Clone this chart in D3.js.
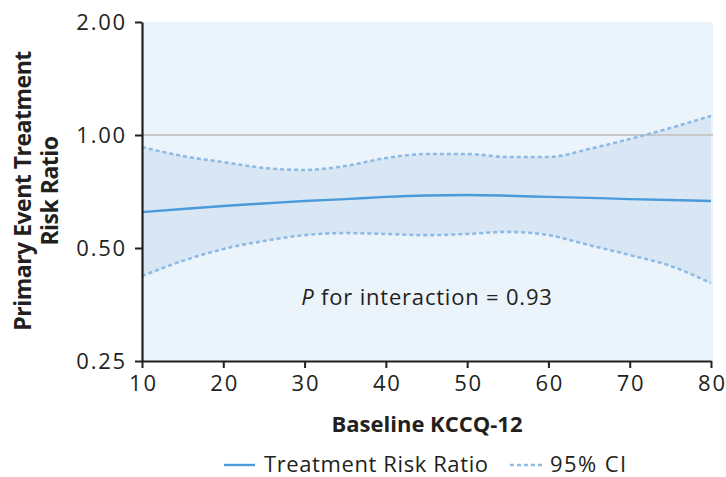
<!DOCTYPE html>
<html>
<head>
<meta charset="utf-8">
<script src="https://cdn.jsdelivr.net/npm/d3@7"></script>
<style>
body { margin: 0; background: #fff; }
text { font-family: "Open Sans", "Noto Sans", sans-serif; fill: #231f20; }
</style>
</head>
<body>
<svg id="chart" width="726" height="477"></svg>
<script>
// KCCQ-12 values along x
var kccq = [10, 15, 20, 25, 30, 35, 40, 45, 50, 55, 60, 65, 70, 75, 80];
var riskRatio = [0.623, 0.635, 0.647, 0.657, 0.667, 0.675, 0.684, 0.690, 0.692, 0.689, 0.684, 0.680, 0.675, 0.671, 0.667];
var ciUpper = [0.929, 0.879, 0.847, 0.817, 0.807, 0.827, 0.868, 0.890, 0.890, 0.874, 0.874, 0.918, 0.976, 1.044, 1.124];
var ciLower = [0.421, 0.462, 0.497, 0.522, 0.541, 0.548, 0.545, 0.541, 0.545, 0.552, 0.541, 0.509, 0.479, 0.448, 0.403];

var xTicks = [10, 20, 30, 40, 50, 60, 70, 80];
var yTicks = [0.25, 0.5, 1, 2];
var yTickLabels = ["0.25", "0.50", "1.00", "2.00"];

var svg = d3.select("#chart");

var x = d3.scaleLinear().domain([10, 80]).range([142, 711]);
var y = d3.scaleLog().base(2).domain([0.25, 2]).range([361, 22]);

var rows = kccq.map(function(k, i) {
	return { k: k, rr: riskRatio[i], hi: ciUpper[i], lo: ciLower[i] };
});

// plot background
svg.append("rect")
	.attr("x", x(10))
	.attr("y", y(2))
	.attr("width", x(80) - x(10) + 2)
	.attr("height", y(0.25) - y(2))
	.attr("fill", "#ebf3fb");

var curve = d3.curveMonotoneX;

// confidence band
svg.append("path")
	.datum(rows)
	.attr("d", d3.area()
		.x(function(d) { return x(d.k); })
		.y0(function(d) { return y(d.lo); })
		.y1(function(d) { return y(d.hi); })
		.curve(curve))
	.attr("fill", "#d9e7f5");

// reference line at 1
svg.append("line")
	.attr("x1", x(10))
	.attr("x2", x(80) + 2)
	.attr("y1", y(1))
	.attr("y2", y(1))
	.attr("stroke", "#c8c8c8")
	.attr("stroke-width", 2);

var lineOf = function(key) {
	return d3.line()
		.x(function(d) { return x(d.k); })
		.y(function(d) { return y(d[key]); })
		.curve(curve);
};

["hi", "lo"].forEach(function(key) {
	svg.append("path")
		.datum(rows)
		.attr("d", lineOf(key))
		.attr("fill", "none")
		.attr("stroke", "#8dbbe6")
		.attr("stroke-width", 2.6)
		.attr("stroke-dasharray", "4,3");
});

svg.append("path")
	.datum(rows)
	.attr("d", lineOf("rr"))
	.attr("fill", "none")
	.attr("stroke", "#4b9ad9")
	.attr("stroke-width", 2.4);

// axes
var yAxis = d3.axisLeft(y)
	.tickValues(yTicks)
	.tickFormat(function(d, i) { return yTickLabels[i]; })
	.tickSize(7)
	.tickSizeOuter(0)
	.tickPadding(8);

var gy = svg.append("g")
	.attr("transform", "translate(" + x(10) + ",0)")
	.call(yAxis);

var xAxis = d3.axisBottom(x)
	.tickValues(xTicks)
	.tickSize(7)
	.tickSizeOuter(0)
	.tickPadding(4);

var gx = svg.append("g")
	.attr("transform", "translate(0," + y(0.25) + ")")
	.call(xAxis);

[gx, gy].forEach(function(g) {
	g.select(".domain").attr("stroke", "#231f20").attr("stroke-width", 2.2);
	g.selectAll(".tick line").attr("stroke", "#231f20").attr("stroke-width", 2);
	g.selectAll(".tick text")
		.attr("fill", "#231f20")
		.style("font-size", "22px")
		.style("letter-spacing", "1.8px")
		.style("font-family", "'Open Sans', sans-serif");
});
gx.selectAll(".tick text").attr("dy", "0.85em").attr("dx", "0.9px");
gy.selectAll(".tick text").attr("dy", "0.36em");

// axis titles
var yTitle = svg.append("text")
	.attr("transform", "translate(31,191) rotate(-90)")
	.attr("text-anchor", "middle")
	.style("font-size", "23px")
	.style("letter-spacing", "-0.5px")
	.style("font-weight", "bold");
yTitle.append("tspan").attr("x", 0).attr("dy", 0).text("Primary Event Treatment");
yTitle.append("tspan").attr("x", 0).attr("dy", 27).text("Risk Ratio");

svg.append("text")
	.attr("x", 427)
	.attr("y", 432)
	.attr("text-anchor", "middle")
	.style("font-size", "22px")
	.style("font-weight", "bold")
	.text("Baseline KCCQ-12");

// annotation
var note = svg.append("text")
	.attr("x", 427)
	.attr("y", 305)
	.attr("text-anchor", "middle")
	.style("font-size", "22px")
	.style("letter-spacing", "0.8px");
note.append("tspan").style("font-style", "italic").text("P");
note.append("tspan").text(" for interaction = 0.93");

// legend
var legend = svg.append("g");
legend.append("line")
	.attr("x1", 224).attr("x2", 255)
	.attr("y1", 465).attr("y2", 465)
	.attr("stroke", "#4b9ad9")
	.attr("stroke-width", 2.4);
legend.append("text")
	.attr("x", 264).attr("y", 472)
	.style("font-size", "22px")
	.style("letter-spacing", "0.6px")
	.text("Treatment Risk Ratio");
legend.append("line")
	.attr("x1", 510).attr("x2", 542)
	.attr("y1", 465).attr("y2", 465)
	.attr("stroke", "#8dbbe6")
	.attr("stroke-width", 2.6)
	.attr("stroke-dasharray", "4,3");
legend.append("text")
	.attr("x", 550).attr("y", 472)
	.style("font-size", "22px")
	.style("letter-spacing", "1.4px")
	.text("95% CI");
</script>
</body>
</html>
